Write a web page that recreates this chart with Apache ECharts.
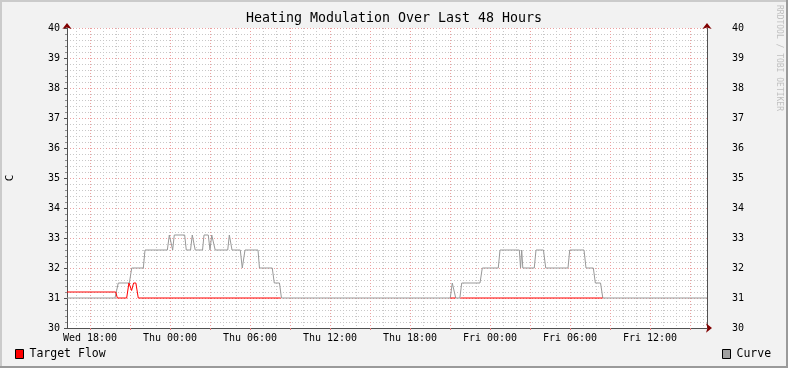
<!DOCTYPE html>
<html>
<head>
<meta charset="utf-8">
<style>
html,body{margin:0;padding:0;background:#f2f2f2;}
#c{width:788px;height:368px;}
</style>
<script src="https://cdn.jsdelivr.net/npm/echarts@6/dist/echarts.min.js"></script>
</head>
<body>
<div id="c"></div>
<script>
// time axis in hours since Wed 00:00
const axisStart = 16.275, axisEnd = 64.275;
const hourTicks = [17,18,19,20,21,22,23,24,25,26,27,28,29,30,31,32,33,34,35,36,37,38,39,40,41,42,43,44,45,46,47,48,49,50,51,52,53,54,55,56,57,58,59,60,61,62,63,64];
const majorTicks = [18,21,24,27,30,33,36,39,42,45,48,51,54,57,60,63];
const labelTicks = [18,24,30,36,42,48,54,60];
const labelTexts = ['Wed 18:00','Thu 00:00','Thu 06:00','Thu 12:00','Thu 18:00','Fri 00:00','Fri 06:00','Fri 12:00'];

const flowHours = [16.275,19.93,20.05,20.75,20.92,21.0,21.12,21.27,21.44,21.62,32.30,32.40,45.04,45.41,45.50,45.79,56.45];
const flowTemps = [31.2,31.2,31.0,31.0,31.5,31.5,31.25,31.5,31.5,31.0,31.0,null,31.0,31.0,null,31.0,31.0];

const curveHours = [16.275,19.875,20.12,20.95,21.13,22.0,22.125,23.8,23.95,24.09,24.2,24.32,25.1,25.22,25.54,25.67,25.76,25.89,26.44,26.55,26.87,27.0,27.13,27.26,27.39,28.33,28.45,28.54,28.65,29.27,29.42,29.51,29.625,30.6,30.71,31.67,31.82,32.21,32.36,45.02,45.17,45.28,45.43,45.74,45.88,47.25,47.42,48.62,48.75,50.2,50.29,50.38,50.46,51.32,51.45,52.01,52.18,53.85,53.98,55.05,55.2,55.75,55.9,56.29,56.46,64.275];
const curveTemps = [31.0,31.0,31.5,31.5,32.0,32.0,32.6,32.6,33.1,33.1,32.6,33.1,33.1,32.6,32.6,33.1,33.1,32.6,32.6,33.1,33.1,32.6,33.1,33.1,32.6,32.6,33.1,33.1,32.6,32.6,32.0,32.0,32.6,32.6,32.0,32.0,31.5,31.5,31.0,31.0,31.5,31.5,31.0,31.0,31.5,31.5,32.0,32.0,32.6,32.6,32.0,32.6,32.0,32.0,32.6,32.6,32.0,32.0,32.6,32.6,32.0,32.0,31.5,31.5,31.0,31.0];

const yMin = 30, yMax = 40;
const FONT = 'DejaVu Sans Mono';
const AXIS = '#505050', ARROW = '#800000';
const MINOR = '#c8c8c8', MAJOR = '#eca0a0';

const flowData = flowHours.map((h, i) => [h, flowTemps[i]]);
const curveData = curveHours.map((h, i) => [h, curveTemps[i]]);

const grid = {left: 67, top: 28, width: 640, height: 300, show: true, backgroundColor: '#ffffff', borderWidth: 0,
  containLabel: false, outerBoundsMode: 'none'};

const chart = echarts.init(document.getElementById('c'), null, {renderer: 'canvas'});
chart.setOption({
  animation: false,
  backgroundColor: '#f2f2f2',
  title: {
    text: 'Heating Modulation Over Last 48 Hours',
    left: 'center', top: 12, padding: 0,
    textStyle: {fontFamily: FONT, fontSize: 13.3, fontWeight: 'normal', color: '#000'}
  },
  grid: grid,
  legend: [
    {data: ['Target Flow'], left: 15, top: 348, icon: 'rect', itemWidth: 8, itemHeight: 9, padding: 0,
     itemStyle: {borderColor: '#000', borderWidth: 1},
     textStyle: {fontFamily: FONT, fontSize: 11.5, color: '#000', padding: [0, 0, 0, 1]}},
    {data: ['Curve'], left: 722, top: 348, icon: 'rect', itemWidth: 8, itemHeight: 9, padding: 0,
     itemStyle: {borderColor: '#000', borderWidth: 1},
     textStyle: {fontFamily: FONT, fontSize: 11.5, color: '#000', padding: [0, 0, 0, 1]}}
  ],
  xAxis: [
    {type: 'value', min: axisStart, max: axisEnd, position: 'bottom',
     axisLine: {show: false}, axisLabel: {show: false},
     axisTick: {show: false, customValues: hourTicks},
     splitLine: {show: true, lineStyle: {color: MINOR, width: 1, type: [1, 2]}}},
    {type: 'value', min: axisStart, max: axisEnd, position: 'bottom',
     axisLine: {show: true, onZero: false, lineStyle: {color: AXIS, width: 1}},
     axisTick: {show: true, customValues: majorTicks, length: 2, lineStyle: {color: '#e08080'}},
     axisLabel: {show: true, customValues: labelTicks, margin: 5,
       fontFamily: FONT, fontSize: 10, color: '#000',
       formatter: v => { const i = labelTicks.indexOf(Math.round(v)); return i >= 0 ? labelTexts[i] : ''; }},
     splitLine: {show: true, lineStyle: {color: MAJOR, width: 1, type: [1, 2]}}},
    {type: 'value', min: axisStart, max: axisEnd, position: 'bottom',
     axisLine: {show: true, onZero: false, symbol: ['none', 'arrow'], symbolSize: [7, 6], symbolOffset: [0, 5],
       lineStyle: {color: ARROW, width: 0}},
     axisTick: {show: false}, axisLabel: {show: false}, splitLine: {show: false}}
  ],
  yAxis: [
    {type: 'value', min: yMin, max: yMax, interval: 1, position: 'left',
     name: 'C', nameLocation: 'middle', nameGap: 51,
     nameTextStyle: {fontFamily: FONT, fontSize: 11, color: '#000'},
     axisLine: {show: true, lineStyle: {color: AXIS, width: 1}},
     axisTick: {show: true, length: 3, lineStyle: {color: AXIS}},
     minorTick: {show: true, splitNumber: 5, length: 2, lineStyle: {color: '#909090'}},
     axisLabel: {margin: 7, fontFamily: FONT, fontSize: 10, color: '#000'},
     splitLine: {show: true, lineStyle: {color: MAJOR, width: 1, type: [1, 2]}},
     minorSplitLine: {show: true, lineStyle: {color: MINOR, width: 1, type: [1, 2]}}},
    {type: 'value', min: yMin, max: yMax, interval: 1, position: 'right',
     axisLine: {show: true, lineStyle: {color: AXIS, width: 1}},
     axisTick: {show: false},
     axisLabel: {margin: 25, fontFamily: FONT, fontSize: 10, color: '#000'},
     splitLine: {show: false}},
    {type: 'value', min: yMin, max: yMax, interval: 1, position: 'left',
     axisLine: {show: true, symbol: ['none', 'arrow'], symbolSize: [7, 6], symbolOffset: [0, 5],
       lineStyle: {color: ARROW, width: 0}},
     axisTick: {show: false}, axisLabel: {show: false}, splitLine: {show: false}},
    {type: 'value', min: yMin, max: yMax, interval: 1, position: 'right',
     axisLine: {show: true, symbol: ['none', 'arrow'], symbolSize: [7, 6], symbolOffset: [0, 5],
       lineStyle: {color: ARROW, width: 0}},
     axisTick: {show: false}, axisLabel: {show: false}, splitLine: {show: false}}
  ],
  series: [
    {name: 'Curve', type: 'line', xAxisIndex: 1, yAxisIndex: 0, data: curveData,
     showSymbol: false, symbol: 'none', connectNulls: false,
     itemStyle: {color: '#a0a0a0'}, lineStyle: {color: '#999999', width: 1}, z: 3},
    {name: 'Target Flow', type: 'line', xAxisIndex: 1, yAxisIndex: 0, data: flowData,
     showSymbol: false, symbol: 'none', connectNulls: false,
     itemStyle: {color: '#ff0000'}, lineStyle: {color: '#ff0000', width: 1}, z: 4}
  ],
  graphic: [
    {type: 'rect', shape: {x: 0, y: 0, width: 788, height: 2}, style: {fill: '#cbcbcb'}, silent: true},
    {type: 'rect', shape: {x: 0, y: 0, width: 2, height: 368}, style: {fill: '#cbcbcb'}, silent: true},
    {type: 'rect', shape: {x: 786, y: 0, width: 2, height: 368}, style: {fill: '#9a9a9a'}, silent: true},
    {type: 'rect', shape: {x: 0, y: 366, width: 788, height: 2}, style: {fill: '#9a9a9a'}, silent: true},
    {type: 'text', x: 779, y: 5, rotation: -Math.PI / 2, silent: true,
     style: {text: 'RRDTOOL / TOBI OETIKER', fill: '#c0c0c0', font: '8px "DejaVu Sans Mono"',
       textAlign: 'left', textVerticalAlign: 'middle'}}
  ]
});
</script>
</body>
</html>
